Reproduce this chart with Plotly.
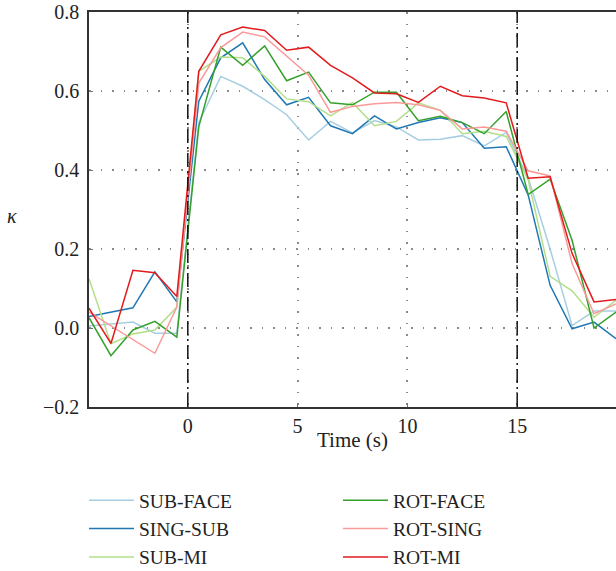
import plotly.graph_objects as go

time_s = [-4.5, -3.5, -2.5, -1.5, -0.5, 0.5, 1.5, 2.5, 3.5, 4.5, 5.5, 6.5, 7.5,
          8.5, 9.5, 10.5, 11.5, 12.5, 13.5, 14.5, 15.5, 16.5, 17.5, 18.5, 19.5]

sub_face = [0.005, 0.010, 0.015, -0.013, -0.013, 0.52, 0.637, 0.612, 0.578, 0.54,
            0.476, 0.523, 0.494, 0.525, 0.509, 0.476, 0.478, 0.487, 0.461, 0.495,
            0.38, 0.20, 0.006, 0.043, 0.043]
sing_sub = [0.029, 0.040, 0.051, 0.142, 0.066, 0.574, 0.684, 0.722, 0.629, 0.565,
            0.584, 0.512, 0.492, 0.537, 0.504, 0.52, 0.532, 0.52, 0.455, 0.459,
            0.337, 0.108, -0.002, 0.015, -0.027]
sub_mi = [0.125, -0.040, -0.015, -0.005, 0.053, 0.650, 0.686, 0.684, 0.637, 0.58,
          0.573, 0.537, 0.571, 0.512, 0.523, 0.570, 0.551, 0.492, 0.498, 0.485,
          0.375, 0.131, 0.094, 0.027, 0.070]
rot_face = [0.026, -0.070, -0.005, 0.017, -0.023, 0.510, 0.711, 0.665, 0.714, 0.626,
            0.648, 0.570, 0.565, 0.597, 0.597, 0.525, 0.536, 0.52, 0.492, 0.548,
            0.338, 0.377, 0.222, 0.0, 0.040]
rot_sing = [0.040, 0.005, -0.030, -0.064, 0.053, 0.62, 0.71, 0.749, 0.737, 0.688,
            0.640, 0.546, 0.561, 0.568, 0.571, 0.565, 0.551, 0.504, 0.509, 0.498,
            0.398, 0.385, 0.163, 0.036, 0.061]
rot_mi = [0.050, -0.039, 0.146, 0.140, 0.080, 0.65, 0.742, 0.762, 0.753, 0.703,
          0.711, 0.665, 0.633, 0.595, 0.593, 0.571, 0.612, 0.588, 0.582, 0.570,
          0.379, 0.383, 0.189, 0.066, 0.072]

series_names = ["SUB-FACE", "SING-SUB", "SUB-MI", "ROT-FACE", "ROT-SING", "ROT-MI"]
series_values = [sub_face, sing_sub, sub_mi, rot_face, rot_sing, rot_mi]
series_colors = ["#a6cee3", "#1f78b4", "#b2df8a", "#33a02c", "#fb9a99", "#e31a1c"]
legend_ids = ["legend", "legend", "legend", "legend2", "legend2", "legend2"]

x_ticks = [0, 5, 10, 15]
y_ticks = [-0.2, 0.0, 0.2, 0.4, 0.6, 0.8]
y_tick_text = ["−0.2", "0.0", "0.2", "0.4", "0.6", "0.8"]
event_times = [0, 15]

FONT = "Liberation Serif, DejaVu Serif, serif"
W, H = 616, 571
L, T, B = 89, 12, 164
PW, PH = W - L, H - T - B

fig = go.Figure()
for name, vals, col, lg in zip(series_names, series_values, series_colors, legend_ids):
    fig.add_trace(go.Scatter(x=time_s, y=vals, mode="lines", name=name,
                             line=dict(color=col, width=1.5), legend=lg))

for t in event_times:
    fig.add_shape(type="line", xref="x", yref="paper", x0=t, x1=t, y0=0, y1=1,
                  line=dict(color="#111111", width=1.5, dash="14px,4px,2px,4px"),
                  layer="above")

fig.add_annotation(text="<i>κ</i>", xref="paper", yref="paper",
                   x=(12 - L) / PW, y=(T + PH - 216) / PH, showarrow=False,
                   xanchor="center", yanchor="middle",
                   font=dict(family=FONT, size=20, color="#222222"))
fig.add_annotation(text="Time (s)", xref="paper", yref="paper",
                   x=0.5, y=(T + PH - 440) / PH, showarrow=False,
                   xanchor="center", yanchor="middle",
                   font=dict(family=FONT, size=21, color="#222222"))

legend_common = dict(orientation="v", xref="container", yref="container",
                     xanchor="left", yanchor="top", bgcolor="rgba(0,0,0,0)",
                     font=dict(family=FONT, size=19.5, color="#222222"),
                     tracegroupgap=0, itemwidth=45)

grid_common = dict(showgrid=True, gridcolor="#8a8a8a", gridwidth=1.5,
                   griddash="1.5px,10px", zeroline=False,
                   showline=True, linecolor="#333333", linewidth=1.5,
                   ticks="inside", ticklen=4, tickcolor="#777777",
                   tickfont=dict(family=FONT, size=20, color="#222222"))

fig.update_layout(
    width=W, height=H,
    margin=dict(l=L, r=0, t=T, b=B, autoexpand=False),
    paper_bgcolor="white", plot_bgcolor="white",
    font=dict(family=FONT, size=20, color="#222222"),
    legend=dict(x=84 / W, y=1 - 481 / H, **legend_common),
    legend2=dict(x=338 / W, y=1 - 481 / H, **legend_common),
    xaxis=dict(range=[-4.5, 19.5], tickvals=x_ticks, ticktext=[str(v) for v in x_ticks],
               mirror=True, ticklabelstandoff=0, **grid_common),
    yaxis=dict(range=[-0.2, 0.8], tickvals=y_ticks, ticktext=y_tick_text,
               mirror=False, ticklabelstandoff=4, **grid_common),
)

# remove the page's default 8px body margin so the figure fills the window
fig.write_html("out.html", config={"displayModeBar": False},
               post_script="document.body.style.margin='0';document.body.style.overflow='hidden';")
